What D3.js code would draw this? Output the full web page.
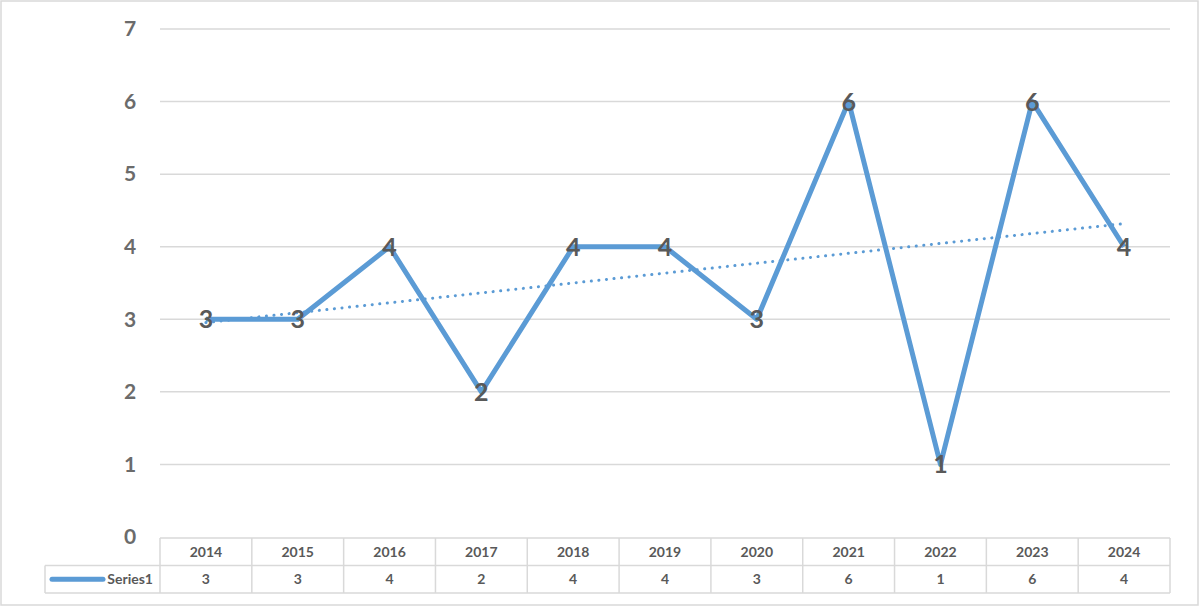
<!DOCTYPE html>
<meta charset="utf-8">
<title>Series1</title>
<style>
    body {
        margin: 0;
        background: #fff;
    }

    text {
        font-family: Lato, "Open Sans", sans-serif;
        font-weight: 700;
    }
</style>
<body>
<script src="https://cdnjs.cloudflare.com/ajax/libs/d3/7.8.5/d3.min.js"></script>
<script>
    var years = ["2014", "2015", "2016", "2017", "2018", "2019", "2020", "2021", "2022", "2023", "2024"];
    var values = [3, 3, 4, 2, 4, 4, 3, 6, 1, 6, 4];
    var yTicks = [0, 1, 2, 3, 4, 5, 6, 7];
    var seriesName = "Series1";

    var W = 1200, H = 607;
    // note: "top" is taken by window.top, so plot edges get a prefix
    var pLeft = 160, pRight = 1170, pTop = 29, pBottom = 537;
    var rowH = 27.5; // table row height
    var blue = "#5B9BD5", grid = "#d9d9d9", ink = "#595959";

    var svg = d3.select("body").append("svg")
        .attr("width", W)
        .attr("height", H);

    // outer chart border
    svg.append("rect")
        .attr("x", 1).attr("y", 1)
        .attr("width", W - 3).attr("height", H - 3)
        .attr("fill", "none")
        .attr("stroke", grid)
        .attr("stroke-width", 1.5);

    var x = d3.scaleBand()
        .domain(years)
        .range([pLeft, pRight]);

    var y = d3.scaleLinear()
        .domain([0, 7])
        .range([pBottom, pTop]);

    // gridlines (0 is covered by the table top)
    svg.append("g")
        .selectAll("line")
        .data(yTicks.filter(function (d) { return d > 0; }))
        .enter()
        .append("line")
        .attr("x1", pLeft).attr("x2", pRight)
        .attr("y1", function (d) { return y(d); })
        .attr("y2", function (d) { return y(d); })
        .attr("stroke", grid)
        .attr("stroke-width", 1.5);

    // y labels
    svg.append("g")
        .selectAll("text")
        .data(yTicks)
        .enter()
        .append("text")
        .attr("x", 130)
        .attr("y", function (d) { return y(d); })
        .attr("dy", "0.35em")
        .attr("text-anchor", "middle")
        .attr("fill", "#6b6b6b")
        .attr("font-size", 21)
        .text(function (d) { return d; });

    // data table
    var tbl = svg.append("g").attr("fill", "none").attr("stroke", grid).attr("stroke-width", 1.5);
    var t0 = pBottom + 1, t1 = t0 + rowH, t2 = t1 + rowH, tableLeft = 45;

    tbl.append("line").attr("x1", pLeft).attr("x2", pRight).attr("y1", t0).attr("y2", t0);
    tbl.append("line").attr("x1", tableLeft).attr("x2", pRight).attr("y1", t1).attr("y2", t1);
    tbl.append("line").attr("x1", tableLeft).attr("x2", pRight).attr("y1", t2).attr("y2", t2);
    tbl.append("line").attr("x1", tableLeft).attr("x2", tableLeft).attr("y1", t1).attr("y2", t2);

    tbl.selectAll("line.col")
        .data(years.concat(["end"]))
        .enter()
        .append("line")
        .attr("class", "col")
        .attr("x1", function (d) { return d === "end" ? pRight : x(d); })
        .attr("x2", function (d) { return d === "end" ? pRight : x(d); })
        .attr("y1", t0)
        .attr("y2", t2);

    svg.append("g")
        .selectAll("text")
        .data(years)
        .enter()
        .append("text")
        .attr("x", function (d) { return x(d) + x.bandwidth() / 2; })
        .attr("y", (t0 + t1) / 2)
        .attr("dy", "0.35em")
        .attr("text-anchor", "middle")
        .attr("fill", ink)
        .attr("font-size", 14)
        .text(function (d) { return d; });

    svg.append("g")
        .selectAll("text")
        .data(values)
        .enter()
        .append("text")
        .attr("x", function (d, i) { return x(years[i]) + x.bandwidth() / 2; })
        .attr("y", (t1 + t2) / 2)
        .attr("dy", "0.35em")
        .attr("text-anchor", "middle")
        .attr("fill", ink)
        .attr("font-size", 14)
        .text(function (d) { return d; });

    // legend key in table
    svg.append("line")
        .attr("x1", 52).attr("x2", 103)
        .attr("y1", (t1 + t2) / 2).attr("y2", (t1 + t2) / 2)
        .attr("stroke", blue)
        .attr("stroke-width", 5)
        .attr("stroke-linecap", "round");

    svg.append("text")
        .attr("x", 153)
        .attr("y", (t1 + t2) / 2)
        .attr("dy", "0.35em")
        .attr("text-anchor", "end")
        .attr("fill", ink)
        .attr("font-size", 14)
        .text(seriesName);

    var cx = function (i) { return x(years[i]) + x.bandwidth() / 2; };

    // linear trendline (least squares on index)
    var n = values.length;
    var mx = d3.mean(values, function (d, i) { return i; });
    var my = d3.mean(values);
    var sxy = d3.sum(values, function (d, i) { return (i - mx) * (d - my); });
    var sxx = d3.sum(values, function (d, i) { return (i - mx) * (i - mx); });
    var slope = sxy / sxx, icpt = my - slope * mx;

    svg.append("line")
        .attr("x1", cx(0)).attr("x2", cx(n - 1))
        .attr("y1", y(icpt)).attr("y2", y(icpt + slope * (n - 1)))
        .attr("stroke", blue)
        .attr("stroke-width", 3)
        .attr("stroke-linecap", "round")
        .attr("stroke-dasharray", "0.1 7.5");

    // series line
    svg.append("path")
        .datum(values)
        .attr("fill", "none")
        .attr("stroke", blue)
        .attr("stroke-width", 5)
        .attr("stroke-linejoin", "round")
        .attr("d", d3.line()
            .x(function (d, i) { return cx(i); })
            .y(function (d) { return y(d); }));

    // data labels
    svg.append("g")
        .selectAll("text")
        .data(values)
        .enter()
        .append("text")
        .attr("x", function (d, i) { return cx(i); })
        .attr("y", function (d) { return y(d); })
        .attr("dy", "0.36em")
        .attr("text-anchor", "middle")
        .attr("fill", ink)
        .attr("font-size", 25)
        .text(function (d) { return d; });
</script>
</body>
